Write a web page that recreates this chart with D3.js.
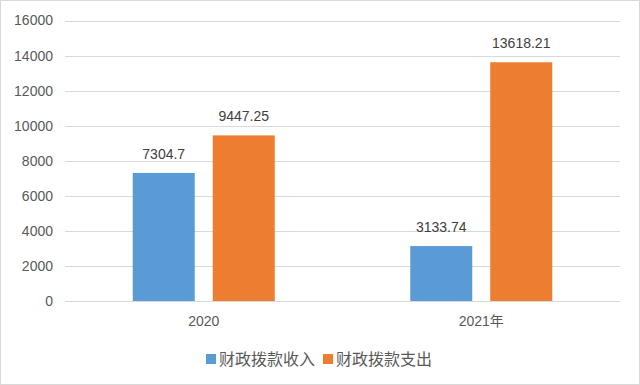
<!DOCTYPE html>
<html>
<head>
<meta charset="utf-8">
<script src="https://cdn.jsdelivr.net/npm/d3@7"></script>
<style>
  body { margin: 0; background: #fff; }
  text { font-family: "Liberation Sans", "Noto Sans CJK SC", sans-serif; }
</style>
</head>
<body>
<div id="chart"></div>
<script>
// data
var categories = ["2020", "2021年"];
var seriesNames = ["财政拨款收入", "财政拨款支出"];
var incomeValues = [7304.7, 3133.74];
var spendValues = [9447.25, 13618.21];
var yTicks = [0, 2000, 4000, 6000, 8000, 10000, 12000, 14000, 16000];

var colors = ["#5b9bd5", "#ed7d31"];
var width = 640, height = 385;
var margin = { left: 65, right: 20, top: 20.5, bottom: 84 };

var svg = d3.select("#chart").append("svg")
    .attr("width", width)
    .attr("height", height);

// outer frame
svg.append("rect")
    .attr("x", 0.5).attr("y", 0.5)
    .attr("width", width - 1).attr("height", height - 1)
    .style("fill", "#fff")
    .style("stroke", "#d9d9d9")
    .style("stroke-width", "1px");

var x = d3.scaleBand()
    .domain(categories)
    .range([margin.left, width - margin.right]);

var x1 = d3.scaleBand()
    .domain(seriesNames)
    .range([0, x.bandwidth()])
    .paddingInner(0.225)
    .paddingOuter(0.847);

var y = d3.scaleLinear()
    .domain([0, 16000])
    .range([height - margin.bottom, margin.top]);

// gridlines
svg.append("g")
    .selectAll("line")
    .data(yTicks)
    .enter().append("line")
    .attr("x1", margin.left)
    .attr("x2", width - margin.right)
    .attr("y1", d => Math.round(y(d)) + 0.5)
    .attr("y2", d => Math.round(y(d)) + 0.5)
    .style("stroke", "#d9d9d9")
    .style("stroke-width", "1px");

// y axis labels
var yAxis = svg.append("g")
    .attr("transform", "translate(" + margin.left + ",0)")
    .call(d3.axisLeft(y).tickValues(yTicks).tickSize(0).tickPadding(12).tickFormat(d3.format("d")));
yAxis.select(".domain").remove();
yAxis.selectAll("text")
    .attr("fill", "#595959")
    .style("font-size", "14px");

// x axis labels
var xAxis = svg.append("g")
    .attr("transform", "translate(0," + y(0) + ")")
    .call(d3.axisBottom(x).tickSize(0).tickPadding(15));
xAxis.select(".domain").remove();
xAxis.selectAll("text")
    .attr("fill", "#595959")
    .style("font-size", "14px");

var rows = categories.map((c, i) => ({ cat: c, vals: [incomeValues[i], spendValues[i]] }));

var groups = svg.append("g")
    .selectAll("g")
    .data(rows)
    .enter().append("g")
    .attr("transform", d => "translate(" + x(d.cat) + ",0)");

groups.selectAll("rect")
    .data(d => d.vals.map((v, j) => ({ name: seriesNames[j], value: v, j: j })))
    .enter().append("rect")
    .attr("x", d => x1(d.name))
    .attr("width", x1.bandwidth())
    .attr("y", d => y(d.value))
    .attr("height", d => y(0) - y(d.value))
    .attr("fill", d => colors[d.j]);

groups.selectAll("text.val")
    .data(d => d.vals.map((v, j) => ({ name: seriesNames[j], value: v, j: j })))
    .enter().append("text")
    .attr("class", "val")
    .attr("x", d => x1(d.name) + x1.bandwidth() / 2)
    .attr("y", d => y(d.value) - 14)
    .attr("text-anchor", "middle")
    .attr("fill", "#404040")
    .style("font-size", "14px")
    .text(d => d.value);

// legend
var legendX = [206, 323];
var legend = svg.append("g")
    .selectAll("g")
    .data(seriesNames)
    .enter().append("g")
    .attr("transform", (d, i) => "translate(" + legendX[i] + ",354)");

legend.append("rect")
    .attr("width", 10).attr("height", 10)
    .attr("fill", (d, i) => colors[i]);

legend.append("text")
    .attr("x", 13)
    .attr("y", 11)
    .attr("fill", "#595959")
    .style("font-size", "16px")
    .style("font-family", "'Noto Sans CJK SC', sans-serif")
    .text(d => d);
</script>
</body>
</html>
